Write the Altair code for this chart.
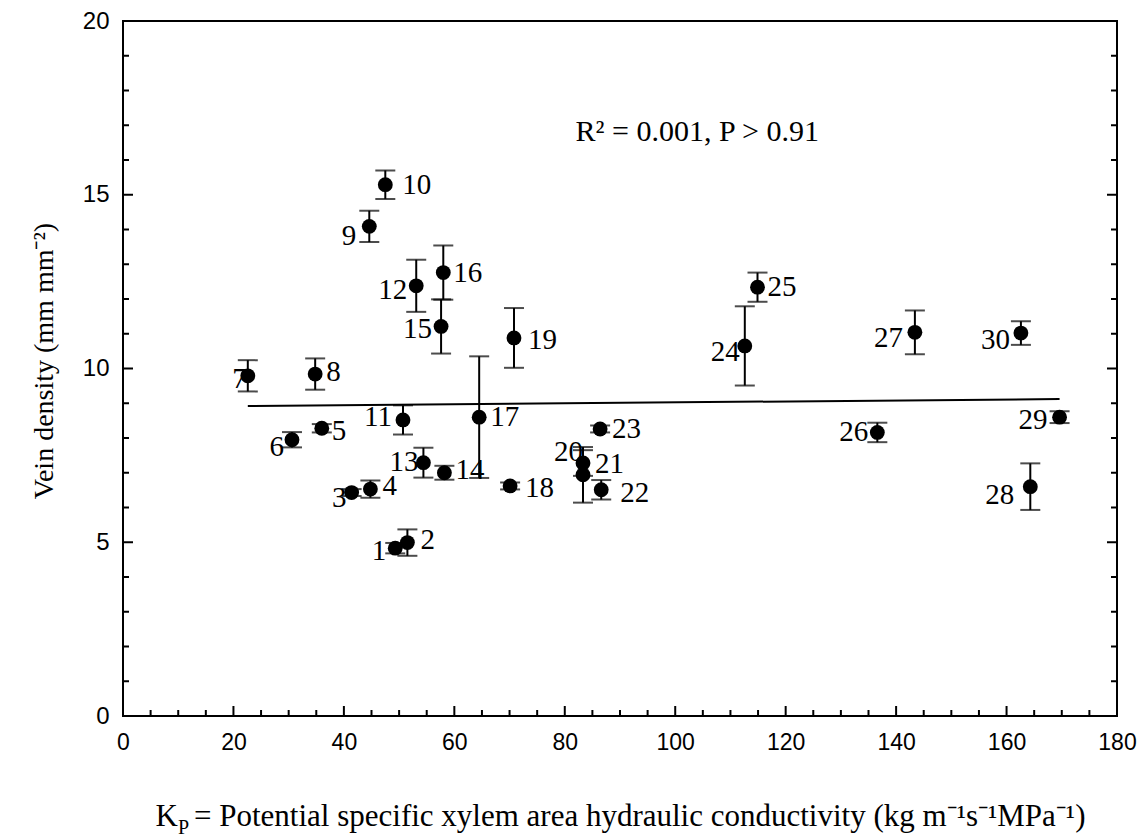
import altair as alt
import pandas as pd

# Species number, potential specific xylem conductivity (Kp), vein density and its error
species = list(range(1, 31))
kp = [49.3, 51.5, 41.4, 44.8, 36.0, 30.6, 22.6, 34.8, 44.6, 47.5,
      50.7, 53.1, 54.4, 58.2, 57.6, 58.0, 64.5, 70.1, 70.8, 83.3,
      83.3, 86.6, 86.4, 112.6, 114.9, 136.6, 143.4, 164.3, 169.6, 162.6]
vein = [4.83, 4.99, 6.43, 6.53, 8.28, 7.95, 9.79, 9.84, 14.09, 15.29,
        8.52, 12.38, 7.29, 7.00, 11.21, 12.76, 8.60, 6.62, 10.88, 7.28,
        6.94, 6.51, 8.26, 10.65, 12.34, 8.16, 11.04, 6.60, 8.60, 11.02]
err = [0.15, 0.38, 0.10, 0.25, 0.12, 0.22, 0.45, 0.45, 0.45, 0.41,
       0.42, 0.75, 0.43, 0.20, 0.78, 0.78, 1.75, 0.10, 0.86, 0.37,
       0.80, 0.28, 0.10, 1.14, 0.42, 0.28, 0.63, 0.67, 0.17, 0.34]

# Regression line end points
fit_kp = [22.6, 169.6]
fit_vein = [8.92, 9.12]

# Axis tick positions
x_labels = [0, 20, 40, 60, 80, 100, 120, 140, 160, 180]
x_major = [20, 40, 60, 80, 100, 120, 140, 160]
x_minor = [5, 10, 15, 25, 30, 35, 45, 50, 55, 65, 70, 75, 85, 90, 95, 105, 110, 115,
           125, 130, 135, 145, 150, 155, 165, 170, 175]
y_labels = [0, 5, 10, 15, 20]
y_major = [5, 10, 15]
y_minor = [1, 2, 3, 4, 6, 7, 8, 9, 11, 12, 13, 14, 16, 17, 18, 19]

# Label placement: side of the point, horizontal / vertical offset in pixels
label_side = ["L", "R", "L", "R", "R", "L", "L", "R", "L", "R",
              "L", "L", "L", "R", "L", "R", "R", "R", "R", "L",
              "R", "R", "R", "L", "R", "L", "L", "L", "L", "L"]
label_dx = [-9, 13, -5, 12, 10, -8, -1, 11, -13, 17,
            -11, -9, -5, 11, -9, 10, 11, 15, 14, 0,
            12, 19, 12, -5, 10, -9, -12, -16, -12, -11]
label_dy = [3, -3, 5, -3, 3, 7, 3, -2, 10, 0,
            -3, 4, -1, -3, 3, 0, 0, 2, 2, -11,
            -11, 3, 0, 6, 0, 0, 6, 8, 3, 7]

W, H = 994, 695
X_MAX, Y_MAX = 180, 20

df = pd.DataFrame({"species": species, "kp": kp, "vein": vein, "err": err,
                   "side": label_side})
df["lo"] = df["vein"] - df["err"]
df["hi"] = df["vein"] + df["err"]
df["lab_x"] = df["kp"] + pd.Series(label_dx) * X_MAX / W
df["lab_y"] = df["vein"] - pd.Series(label_dy) * Y_MAX / H

fit_df = pd.DataFrame({"kp": fit_kp, "vein": fit_vein})

xs = alt.Scale(domain=[0, X_MAX], nice=False, zero=False)
ys = alt.Scale(domain=[0, Y_MAX], nice=False, zero=False)

x_axis = alt.Axis(values=x_labels, ticks=False, domain=False, grid=False,
                  labelFont="Liberation Sans", labelFontSize=23, labelPadding=15,
                  labelFlush=False, labelOverlap=False, labelColor="black", title=None)
y_axis = alt.Axis(values=y_labels, ticks=False, domain=False, grid=False,
                  labelFont="Liberation Sans", labelFontSize=24, labelPadding=14,
                  labelFlush=False, labelOverlap=False, labelColor="black", title=None)

base = alt.Chart(df)

bars = base.mark_rule(color="black", strokeWidth=2).encode(
    x=alt.X("kp:Q", scale=xs, axis=x_axis),
    y=alt.Y("lo:Q", scale=ys, axis=y_axis),
    y2="hi:Q",
)
cap_lo = base.mark_tick(color="black", orient="horizontal", size=20, thickness=2).encode(
    x=alt.X("kp:Q", scale=xs), y=alt.Y("lo:Q", scale=ys))
cap_hi = base.mark_tick(color="black", orient="horizontal", size=20, thickness=2).encode(
    x=alt.X("kp:Q", scale=xs), y=alt.Y("hi:Q", scale=ys))

points = base.mark_circle(color="black", size=220, opacity=1).encode(
    x=alt.X("kp:Q", scale=xs), y=alt.Y("vein:Q", scale=ys))

fit = alt.Chart(fit_df).mark_line(color="black", strokeWidth=2).encode(
    x=alt.X("kp:Q", scale=xs), y=alt.Y("vein:Q", scale=ys))

lab_style = dict(baseline="middle", font="Liberation Serif", fontSize=29, color="black")
labels_left = base.transform_filter(alt.datum.side == "L").mark_text(
    align="right", **lab_style).encode(
    x=alt.X("lab_x:Q", scale=xs), y=alt.Y("lab_y:Q", scale=ys), text="species:N")
labels_right = base.transform_filter(alt.datum.side == "R").mark_text(
    align="left", **lab_style).encode(
    x=alt.X("lab_x:Q", scale=xs), y=alt.Y("lab_y:Q", scale=ys), text="species:N")


def xticks(vals, length):
    return alt.Chart(pd.DataFrame({"v": vals})).mark_rule(
        color="black", strokeWidth=2).encode(
        x=alt.X("v:Q", scale=xs), y=alt.value(H), y2=alt.value(H - length))


def yticks(vals, length, right=False):
    x0 = W if right else 0
    x1 = W - length if right else length
    return alt.Chart(pd.DataFrame({"v": vals})).mark_rule(
        color="black", strokeWidth=2).encode(
        y=alt.Y("v:Q", scale=ys), x=alt.value(x0), x2=alt.value(x1))


ticks = [xticks(x_minor, 6), xticks(x_major, 10),
         yticks(y_minor, 6), yticks(y_major, 10),
         yticks(y_minor, 6, True), yticks(y_major, 10, True)]

stat = alt.Chart(pd.DataFrame({"t": ["R² = 0.001, P > 0.91"]})).mark_text(
    font="Liberation Serif", fontSize=30, align="center", baseline="middle",
    color="black").encode(x=alt.datum(104), y=alt.datum(16.8), text="t:N")

# Axis titles
title_style = dict(font="Liberation Serif", color="black")
x_rest = alt.Chart(pd.DataFrame({"t": ["= Potential specific xylem area hydraulic conductivity (kg m⁻¹s⁻¹MPa⁻¹)"]})).mark_text(
    align="left", baseline="alphabetic", fontSize=31, **title_style).encode(
    x=alt.value(71), y=alt.value(110 + H), text="t:N")
x_k = alt.Chart(pd.DataFrame({"t": ["K"]})).mark_text(
    align="right", baseline="alphabetic", fontSize=31, **title_style).encode(
    x=alt.value(55), y=alt.value(110 + H), text="t:N")
x_p = alt.Chart(pd.DataFrame({"t": ["P"]})).mark_text(
    align="left", baseline="alphabetic", fontSize=20, **title_style).encode(
    x=alt.value(55), y=alt.value(118 + H), text="t:N")
y_title = alt.Chart(pd.DataFrame({"t": ["Vein density (mm mm⁻²)"]})).mark_text(
    align="center", baseline="middle", angle=270, fontSize=28, **title_style).encode(
    x=alt.value(-78), y=alt.value(340), text="t:N")

chart = alt.layer(
    bars, cap_lo, cap_hi, fit, points, labels_left, labels_right, *ticks,
    stat, x_rest, x_k, x_p, y_title,
).properties(
    width=W, height=H,
    background="white",
    autosize=alt.AutoSizeParams(type="none"),
    padding={"left": 123, "top": 21, "right": 31, "bottom": 124},
).configure_view(
    stroke="black", strokeWidth=2
)

chart.save("out.html", embed_options={"renderer": "svg", "actions": False})
